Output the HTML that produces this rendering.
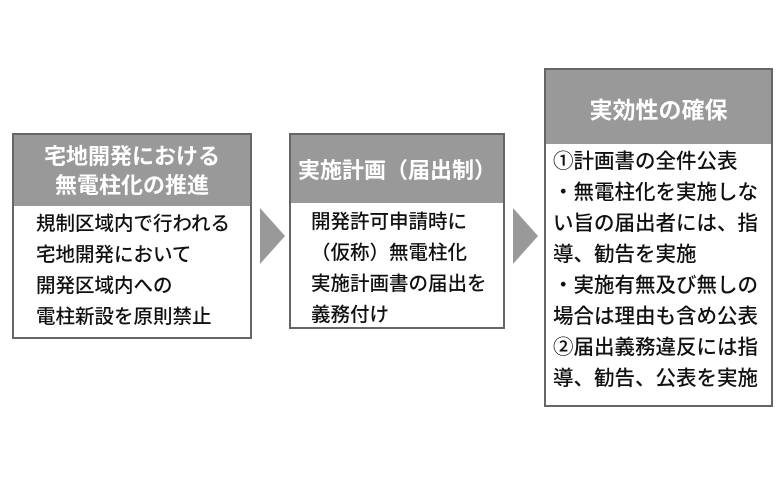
<!DOCTYPE html>
<html><head><meta charset="utf-8"><style>
body{margin:0;width:780px;height:482px;background:#fff;position:relative;overflow:hidden;font-family:"Liberation Sans","Noto Sans CJK JP",sans-serif;color:#111}
.box{position:absolute;border:2px solid #666;box-sizing:border-box;background:#fff}
.hd{position:absolute;left:0;right:0;top:0;background:#999;color:#fff;font-size:22px;text-align:center;font-weight:bold}
.t{position:absolute;font-size:19.5px;white-space:nowrap;line-height:31px;font-weight:500}
.arr{position:absolute;width:0;height:0;border-top:28px solid transparent;border-bottom:28px solid transparent;border-left:25px solid #999}
</style></head><body>
<div class="box" style="left:12px;top:133px;width:240px;height:206px">
 <div class="hd" style="height:71px;line-height:29px;padding-top:7px;box-sizing:border-box">宅地開発における<br>無電柱化の推進</div>
</div>
<div class="t" style="left:36px;top:209px">規制区域内で行われる<br>宅地開発において<br>開発区域内への<br>電柱新設を原則禁止</div>
<div class="arr" style="left:260px;top:208px"></div>
<div class="box" style="left:289px;top:133px;width:216px;height:196px">
 <div class="hd" style="height:68px;line-height:72px">実施計画（届出制）</div>
</div>
<div class="t" style="left:311px;top:207px">開発許可申請時に<br>（仮称）無電柱化<br>実施計画書の届出を<br>義務付け</div>
<div class="arr" style="left:513px;top:208px"></div>
<div class="box" style="left:544px;top:68px;width:229px;height:339px">
 <div class="hd" style="height:74px;line-height:80px;font-size:23px">実効性の確保</div>
</div>
<div class="t" style="left:553px;top:146px;font-size:20.5px">①計画書の全件公表<br>・無電柱化を実施しな<br>い旨の届出者には、指<br>導、勧告を実施<br>・実施有無及び無しの<br>場合は理由も含め公表<br>②届出義務違反には指<br>導、勧告、公表を実施</div>
</body></html>
